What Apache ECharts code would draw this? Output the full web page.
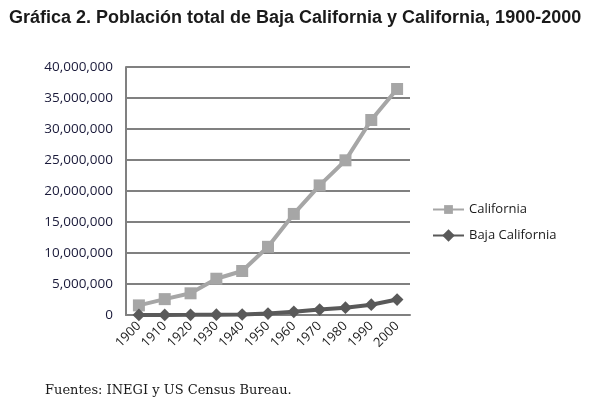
<!DOCTYPE html>
<html lang="es">
<head>
   <meta charset="utf-8">
   <title>Gráfica 2</title>
   <script src="https://cdn.jsdelivr.net/npm/echarts@6.0.0/dist/echarts.min.js"></script>
   <style>
      html, body { margin: 0; padding: 0; background: #fff; }
      #chart { width: 593px; height: 398px; }
   </style>
</head>
<body>
   <div id="chart"></div>
   <script>
      var years = ['1900', '1910', '1920', '1930', '1940', '1950', '1960', '1970', '1980', '1990', '2000'];
      var california = [1550000, 2560000, 3500000, 5850000, 7100000, 11000000, 16300000, 20900000, 24950000, 31450000, 36450000];
      var bajaCalifornia = [7583, 9760, 23537, 48327, 78907, 226965, 520165, 870421, 1177886, 1660855, 2487367];

      var myChart = echarts.init(document.getElementById('chart'), null, { renderer: 'canvas' });

      var option = {
         animation: false,
         title: [
            {
               text: 'Gráfica 2. Población total de Baja California y California, 1900-2000',
               left: 4,
               top: 4,
               textStyle: {
                  fontFamily: 'Liberation Sans',
                  fontSize: 18,
                  fontWeight: 'bold',
                  color: '#1a1a1a'
               }
            },
            {
               text: 'Fuentes: INEGI y US Census Bureau.',
               left: 40,
               top: 379,
               textStyle: {
                  fontFamily: 'DejaVu Serif',
                  fontSize: 13,
                  fontWeight: 'normal',
                  color: '#1a1a1a'
               }
            }
         ],
         legend: {
            orient: 'vertical',
            left: 432,
            top: 203,
            padding: 0,
            itemWidth: 31,
            itemHeight: 11,
            itemGap: 13,
            textStyle: { fontFamily: 'Open Sans', fontSize: 13, color: '#1a1a1a' },
            data: ['California', 'Baja California']
         },
         grid: {
            left: 126,
            right: 183,
            top: 67,
            height: 248,
            containLabel: false
         },
         xAxis: {
            type: 'category',
            data: years,
            boundaryGap: true,
            axisLine: { lineStyle: { color: '#808080', width: 2 } },
            axisTick: { show: false },
            axisLabel: {
               rotate: 45,
               margin: 9,
               fontFamily: 'Open Sans',
               fontSize: 13,
               color: '#1a1a1a'
            }
         },
         yAxis: {
            type: 'value',
            min: 0,
            max: 40000000,
            interval: 5000000,
            axisLine: { show: true, lineStyle: { color: '#808080', width: 2 } },
            axisTick: { show: false },
            splitLine: { lineStyle: { color: '#808080', width: 2 } },
            axisLabel: {
               margin: 13,
               fontFamily: 'Open Sans',
               fontSize: 13.5,
               color: '#1a1a3a',
               formatter: function(v) {
                  return v.toString().replace(/\B(?=(\d{3})+(?!\d))/g, ',');
               }
            }
         },
         series: [
            {
               name: 'California',
               type: 'line',
               data: california,
               symbol: 'rect',
               symbolSize: 12,
               color: '#a6a6a6',
               lineStyle: { width: 4, color: '#a6a6a6' },
               itemStyle: { color: '#a6a6a6' }
            },
            {
               name: 'Baja California',
               type: 'line',
               data: bajaCalifornia,
               symbol: 'rect',
               symbolRotate: 45,
               symbolSize: 9,
               color: '#595959',
               lineStyle: { width: 4, color: '#595959' },
               itemStyle: { color: '#595959' }
            }
         ]
      };

      myChart.setOption(option);
   </script>
</body>
</html>
